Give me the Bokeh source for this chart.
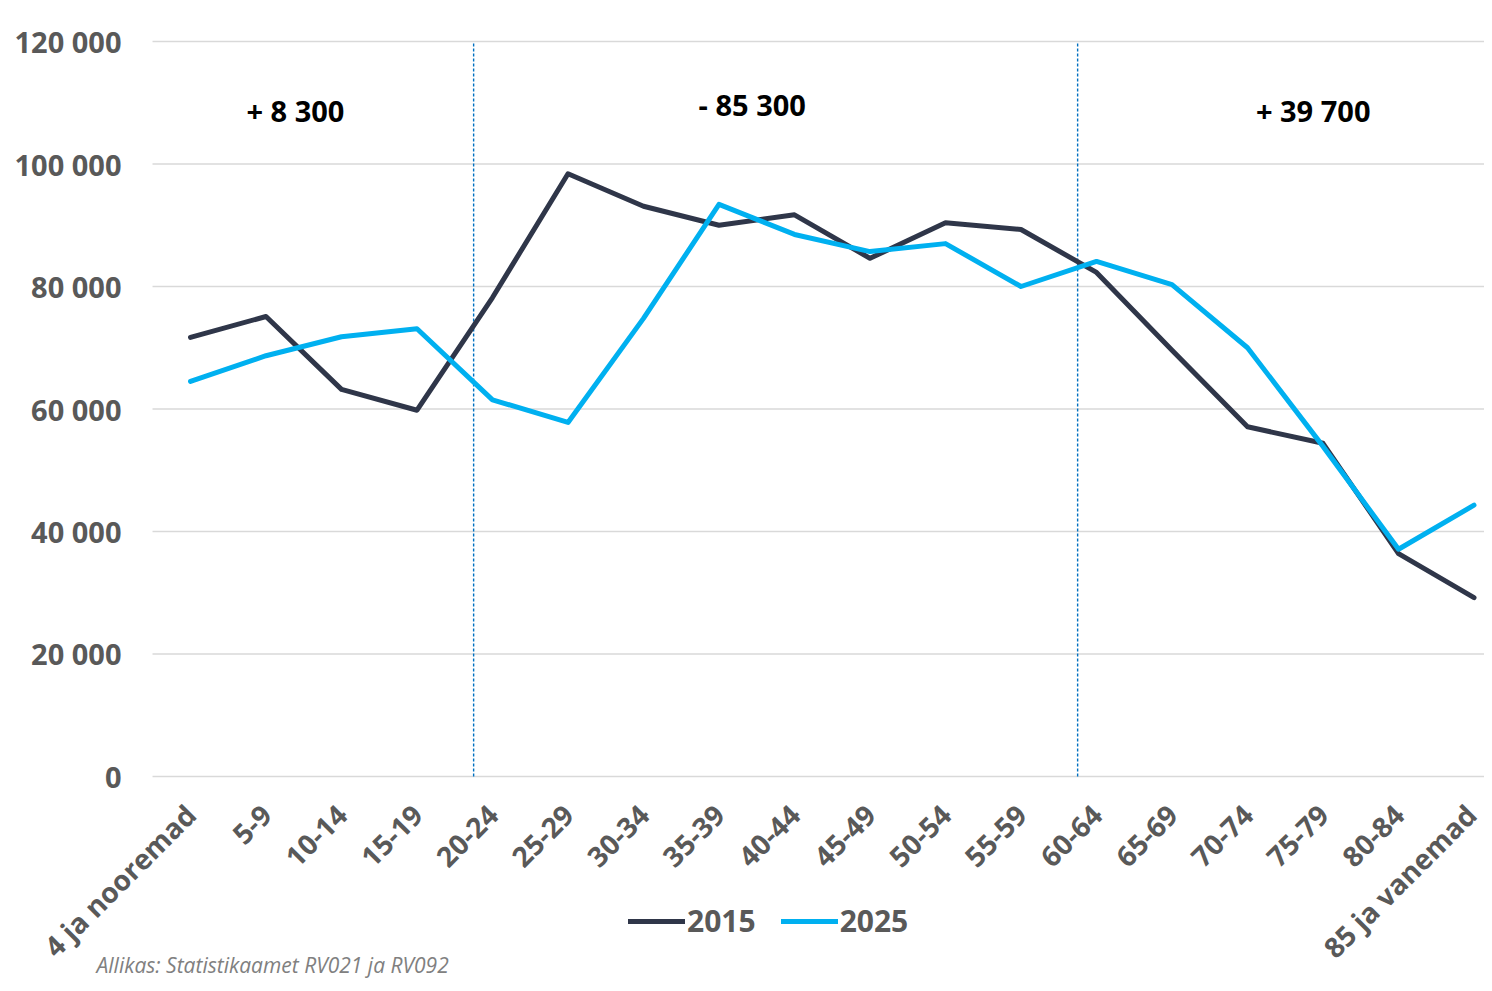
from bokeh.plotting import figure
from bokeh.models import (Range1d, FixedTicker, Label, CustomJSTickFormatter)
from bokeh.embed import file_html
from bokeh.resources import INLINE

categories = ["4 ja nooremad", "5-9", "10-14", "15-19", "20-24", "25-29", "30-34",
              "35-39", "40-44", "45-49", "50-54", "55-59", "60-64", "65-69",
              "70-74", "75-79", "80-84", "85 ja vanemad"]
pop_2015 = [71700, 75100, 63200, 59800, 78200, 98400, 93100, 90000, 91700,
            84600, 90400, 89300, 82300, 69600, 57100, 54400, 36400, 29200]
pop_2025 = [64500, 68700, 71800, 73100, 61500, 57800, 74800, 93400, 88500,
            85700, 87000, 80000, 84100, 80300, 70000, 53900, 37100, 44300]
series_names = ["2015", "2025"]
y_ticks = [0, 20000, 40000, 60000, 80000, 100000, 120000]
group_changes = ["+ 8 300", "- 85 300", "+ 39 700"]
group_separators = [3.75, 11.75]
source_note = "Allikas: Statistikaamet RV021 ja RV092"

FONT = "Open Sans"
GRAY = "#595959"

xs = list(range(len(categories)))
y_top = y_ticks[-1]
X_LEFT = -0.503      # left edge of the plotting area (data units)
X_RIGHT = 17.139

# The frame covers the whole canvas so that nothing (rotated category labels,
# legend, source note) is clipped; both axes are pinned inside it.
p = figure(width=1484, height=983, output_backend="svg", toolbar_location=None,
           x_range=Range1d(-2.5166, X_RIGHT), y_range=Range1d(-33796, 126694),
           min_border_left=0, min_border_right=0, min_border_top=0,
           min_border_bottom=0, outline_line_color=None,
           background_fill_color="white", border_fill_color="white")

# horizontal gridlines, starting at the plot area's left edge
p.xgrid.visible = False
p.ygrid.visible = False
p.segment(x0=[X_LEFT] * len(y_ticks), x1=[X_RIGHT] * len(y_ticks),
          y0=y_ticks, y1=y_ticks, line_color="#d9d9d9", line_width=1.5,
          level="underlay")

# y axis
p.yaxis.fixed_location = X_LEFT
p.yaxis.ticker = FixedTicker(ticks=y_ticks)
p.yaxis.formatter = CustomJSTickFormatter(code="""
    return tick.toLocaleString('en-US').replace(/,/g, ' ');
""")
p.yaxis.axis_line_color = None
p.yaxis.major_tick_line_color = None
p.yaxis.minor_tick_line_color = None
p.yaxis.major_label_standoff = 25
p.yaxis.major_label_text_font = FONT
p.yaxis.major_label_text_font_style = "bold"
p.yaxis.major_label_text_font_size = "29px"
p.yaxis.major_label_text_color = GRAY

# x axis, pinned to the zero line
p.xaxis.fixed_location = 0
p.xaxis.ticker = FixedTicker(ticks=xs)
p.xaxis.major_label_overrides = {i: c for i, c in enumerate(categories)}
p.xaxis.major_label_orientation = 0.785398
p.xaxis.axis_line_color = None
p.xaxis.major_tick_line_color = None
p.xaxis.minor_tick_line_color = None
p.xaxis.major_label_standoff = 27
p.xaxis.major_label_text_font = FONT
p.xaxis.major_label_text_font_style = "bold"
p.xaxis.major_label_text_font_size = "28px"
p.xaxis.major_label_text_color = GRAY

# group separators (dashed verticals from 0 to top)
p.segment(x0=group_separators, x1=group_separators,
          y0=[0] * len(group_separators), y1=[y_top] * len(group_separators),
          line_color="#0070C0", line_width=1.4, line_dash="3 2")

# lines
p.line(xs, pop_2015, line_color="#2f3649", line_width=5, line_join="round",
       line_cap="round", legend_label=series_names[0])
p.line(xs, pop_2025, line_color="#00b0f0", line_width=5, line_join="round",
       line_cap="round", legend_label=series_names[1])

# group change annotations
for txt, gx, gy in zip(group_changes, (1.39, 7.44, 14.87), (108700, 109700, 108700)):
    p.add_layout(Label(x=gx, y=gy, text=txt, text_align="center",
                       text_baseline="middle", text_font=FONT,
                       text_font_style="bold", text_font_size="29px",
                       text_color="#000000"))

# legend
lg = p.legend[0]
lg.orientation = "horizontal"
lg.location = (628, 42)
lg.border_line_color = None
lg.background_fill_alpha = 0
lg.padding = 0
lg.margin = 0
lg.spacing = 25
lg.glyph_width = 57
lg.glyph_height = 28
lg.label_height = 28
lg.label_standoff = 2
lg.label_text_font = FONT
lg.label_text_font_style = "bold"
lg.label_text_font_size = "30px"
lg.label_text_color = GRAY

# source note
p.add_layout(Label(x=-1.245, y=-30700, text=source_note, text_align="left",
                   text_baseline="middle", text_font=FONT,
                   text_font_style="italic", text_font_size="21px",
                   text_color="#808080"))

open("out.html", "w").write(file_html(p, INLINE))
